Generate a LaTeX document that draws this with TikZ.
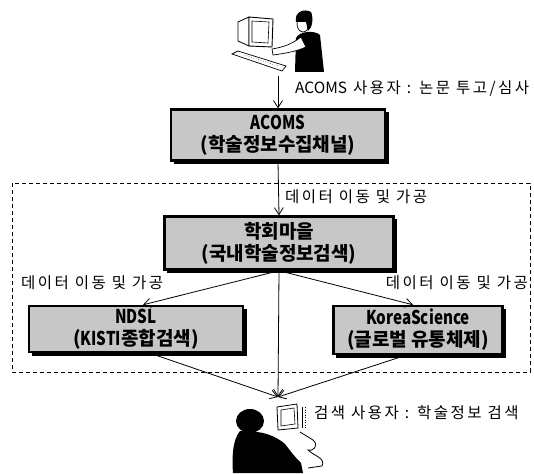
\documentclass[tikz,border=0pt]{standalone}
\usepackage{fontspec}
\setmainfont{Noto Sans CJK KR}
\newfontfamily\krwide[LetterSpace=16]{Noto Sans CJK KR}
\usetikzlibrary{arrows.meta,calc}

% narrow Latin words inside the system boxes
\newcommand{\narrowlatin}[1]{\scalebox{0.8}[1]{#1}}

\tikzset{
  sysbox/.style={draw=black, line width=2.4pt, fill=black!22, align=center,
    font=\fontsize{19}{22}\selectfont\bfseries, inner sep=0pt},
  flow/.style={line width=0.8pt, -{Straight Barb[length=7pt,width=9pt,line width=0.8pt]}},
  note/.style={font=\fontsize{15.5}{17}\krwide, inner sep=0pt},
  frame/.style={line width=0.8pt, dash pattern=on 4pt off 3pt},
}

\begin{document}
\begin{tikzpicture}[x=1pt,y=-1pt]
\useasboundingbox (0,0) rectangle (534,473);

% dashed frame around the search services
\draw[frame] (12,183) rectangle (530,372);

% drop shadows under the system boxes
\fill (174,112) rectangle (389,164);
\fill (167,219) rectangle (397,273);
\fill (32,309) rectangle (247,356);
\fill (336,309) rectangle (506,358);

% system boxes
\node[sysbox, minimum width=214pt, minimum height=51pt] (acoms) at (278,135)
  {\narrowlatin{ACOMS}\\(학술정보수집채널)};
\node[sysbox, minimum width=229pt, minimum height=53pt] (hak) at (279,243)
  {학회마을\\(국내학술정보검색)};
\node[sysbox, minimum width=214pt, minimum height=46pt] (ndsl) at (136,329)
  {\narrowlatin{NDSL}\\(\narrowlatin{KISTI}종합검색)};
\node[sysbox, minimum width=169pt, minimum height=48pt] (kos) at (418,330)
  {\narrowlatin{KoreaScience}\\(글로벌 유통체제)};

% free ends of the user connectors
\coordinate (author) at (278,76);
\coordinate (reader) at (278,397);

% connectors
\draw[flow] (author) -- (acoms.north);
\draw[flow] (acoms.south) -- (hak.north);
\draw[flow] (hak.south) -- ($(ndsl.north)+(7,0)$);
\draw[flow] (hak.south) -- ($(kos.north)+(-5,0)$);
\draw[flow] (hak.south) -- (reader);
\draw[flow] ($(ndsl.south)+(14,0)$) -- (reader);
\draw[flow] ($(kos.south)+(-12,0)$) -- (reader);

% labels
\node[note, anchor=west] (l1) at (295,88) {{\normalfont ACOMS} 사용자 : 논문 투고/심사};
\node[note, anchor=west] (l2) at (285,197) {데이터 이동 및 가공};
\node[note, anchor=west] (l3) at (21,283) {데이터 이동 및 가공};
\node[note, anchor=east] (l4) at (528,283) {데이터 이동 및 가공};
\node[note, anchor=west] (l5) at (314,413) {검색 사용자 : 학술정보 검색};

% author at the workstation
\draw[fill=white, line width=0.8pt] (249,17) -- (238,22) -- (238,41) -- (249,46) -- cycle;
\draw[fill=white, line width=0.9pt] (249,17) -- (273,19) -- (272,47) -- (249,46) -- cycle;
\draw[line width=0.6pt] (252,21) -- (269,22) -- (268,43) -- (252,42) -- cycle;
\draw[fill=white, line width=0.7pt] (232,54) -- (238,51) -- (286,66) -- (282,71) -- cycle;
\draw[line width=0.5pt, dotted] (244,55) -- (278,66);
\fill (295,72) -- (296,38) .. controls (299,31) and (315,30) .. (320,35) -- (324,72) -- cycle;
\draw[fill=white, line width=0.7pt] (301,37) .. controls (292,44) and (284,47) .. (272,49)
  -- (273,55) .. controls (288,53) and (297,51) .. (306,47) -- cycle;
\draw[fill=white, line width=0.7pt] (303,24) ellipse [x radius=6, y radius=8];
\fill (296,22) .. controls (294,12) and (304,8) .. (311,12)
  .. controls (314,19) and (312,28) .. (308,31) -- (306,22) -- cycle;

% reader at the terminal
\draw[fill=white, line width=0.8pt] (277,407) -- (297,404) -- (298,428) -- (278,430) -- cycle;
\draw[line width=0.6pt] (281,410) -- (294,408) -- (295,424) -- (281,426) -- cycle;
\fill (250,421) ellipse [x radius=14, y radius=12];
\fill (240,431) .. controls (232,440) and (232,460) .. (233,473) -- (303,473)
  -- (301,463) .. controls (293,455) and (289,449) .. (285,444)
  .. controls (276,436) and (263,432) .. (255,432) -- cycle;
\draw[line width=0.9pt] (302,407) -- (302,428);
\draw[line width=0.5pt, dotted] (305,407) -- (305,428);
\draw[line width=0.8pt] (300,432) -- (313,440);
\draw[line width=0.8pt] (313,440) .. controls (320,446) and (312,452) .. (308,450)
  .. controls (314,456) and (326,458) .. (322,466) -- (308,468);
\end{tikzpicture}
\end{document}
